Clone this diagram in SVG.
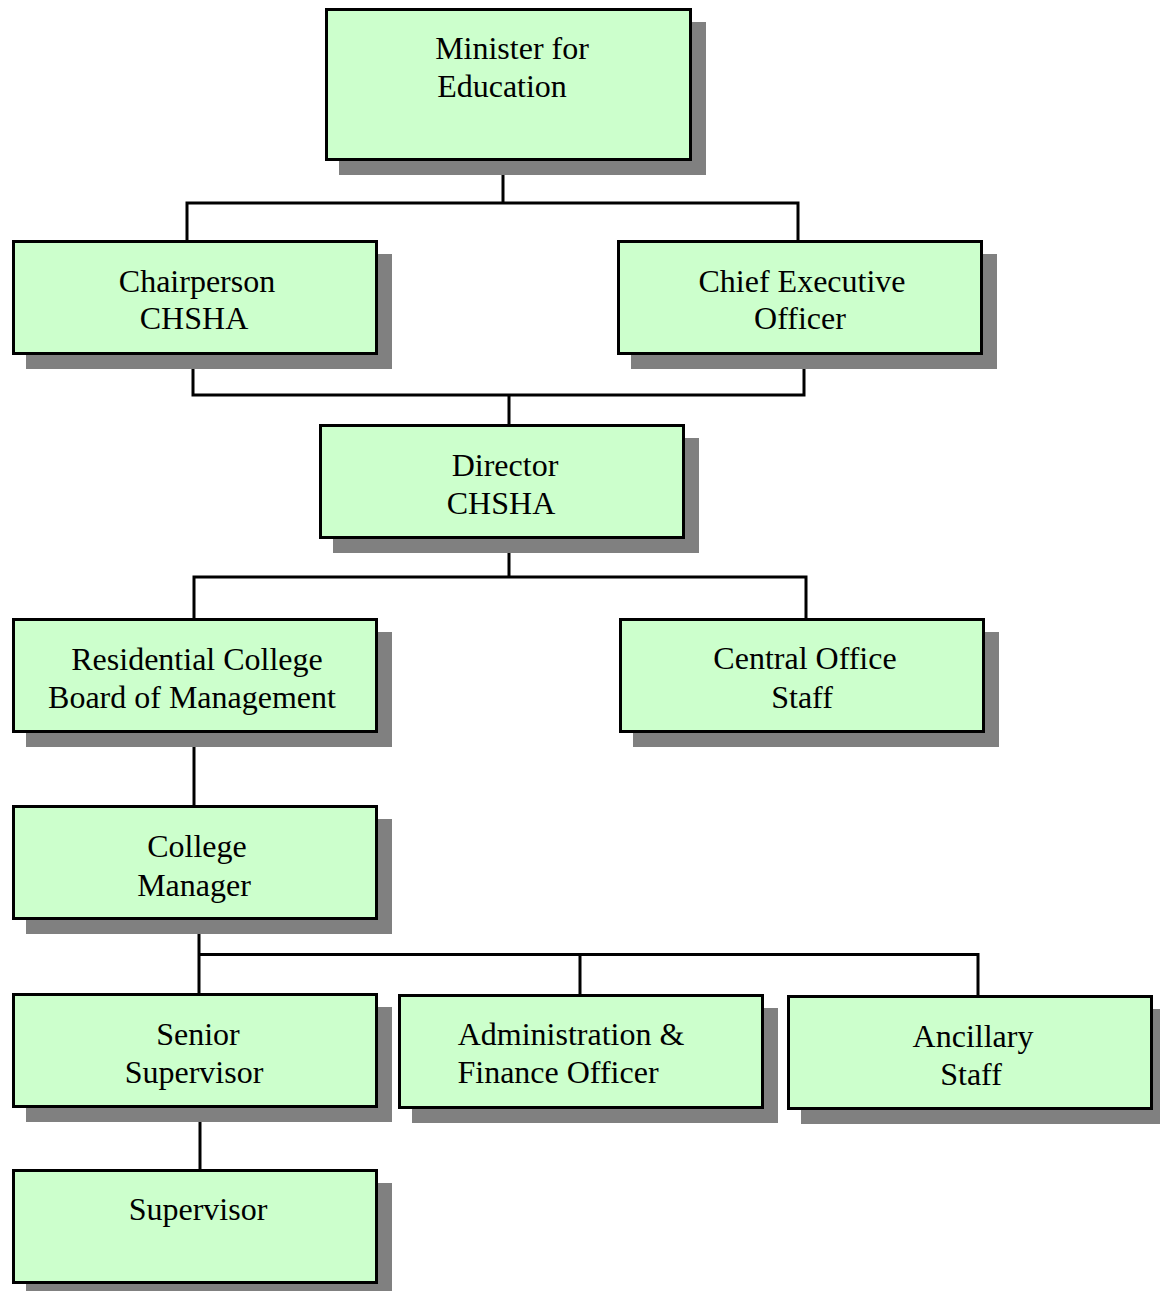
<svg xmlns="http://www.w3.org/2000/svg" width="1160" height="1291" viewBox="0 0 1160 1291">
<style>
.box{fill:#CCFFCC;stroke:#000;stroke-width:3}
.sh{fill:#808080}
.t{font-family:"Liberation Serif","Times New Roman",serif;font-size:32px;fill:#000;text-anchor:middle}
.c{fill:none;stroke:#000;stroke-width:3}
</style>
<rect width="1160" height="1291" fill="#fff"/>
<g id="connectors">
<path class="c" d="M503 161V203M187 240V203H798V240"/>
<path class="c" d="M193 355V395H804V355M509 395V424"/>
<path class="c" d="M509 539V577M194 618V577H806V618"/>
<path class="c" d="M194 733V805"/>
<path class="c" d="M199 920V993M199 954.5H978V995M580 954.5V994"/>
<path class="c" d="M200 1108V1169"/>
</g>
<g id="minister">
<rect class="sh" x="339" y="22" width="367" height="153"/>
<rect class="box" x="326.5" y="9.5" width="364" height="150"/>
<text class="t"><tspan x="512" y="59">Minister for</tspan><tspan x="502" y="97">Education</tspan></text>
</g>
<g id="chairperson">
<rect class="sh" x="26" y="254" width="366" height="115"/>
<rect class="box" x="13.5" y="241.5" width="363" height="112"/>
<text class="t"><tspan x="197" y="292">Chairperson</tspan><tspan x="194" y="329">CHSHA</tspan></text>
</g>
<g id="ceo">
<rect class="sh" x="631" y="254" width="366" height="115"/>
<rect class="box" x="618.5" y="241.5" width="363" height="112"/>
<text class="t"><tspan x="802" y="292">Chief Executive</tspan><tspan x="800" y="329">Officer</tspan></text>
</g>
<g id="director">
<rect class="sh" x="333" y="438" width="366" height="115"/>
<rect class="box" x="320.5" y="425.5" width="363" height="112"/>
<text class="t"><tspan x="505" y="476">Director</tspan><tspan x="501" y="514">CHSHA</tspan></text>
</g>
<g id="board">
<rect class="sh" x="26" y="632" width="366" height="115"/>
<rect class="box" x="13.5" y="619.5" width="363" height="112"/>
<text class="t"><tspan x="197" y="670">Residential College</tspan><tspan x="192" y="708">Board of Management</tspan></text>
</g>
<g id="central-office">
<rect class="sh" x="633" y="632" width="366" height="115"/>
<rect class="box" x="620.5" y="619.5" width="363" height="112"/>
<text class="t"><tspan x="805" y="669">Central Office</tspan><tspan x="802" y="708">Staff</tspan></text>
</g>
<g id="college-manager">
<rect class="sh" x="26" y="819" width="366" height="115"/>
<rect class="box" x="13.5" y="806.5" width="363" height="112"/>
<text class="t"><tspan x="197" y="857">College</tspan><tspan x="194" y="896">Manager</tspan></text>
</g>
<g id="senior-supervisor">
<rect class="sh" x="26" y="1007" width="366" height="115"/>
<rect class="box" x="13.5" y="994.5" width="363" height="112"/>
<text class="t"><tspan x="198" y="1045">Senior</tspan><tspan x="194" y="1083">Supervisor</tspan></text>
</g>
<g id="admin-finance">
<rect class="sh" x="412" y="1008" width="366" height="115"/>
<rect class="box" x="399.5" y="995.5" width="363" height="112"/>
<text class="t"><tspan x="571" y="1045">Administration &amp;</tspan><tspan x="558" y="1083">Finance Officer</tspan></text>
</g>
<g id="ancillary">
<rect class="sh" x="801" y="1009" width="366" height="115"/>
<rect class="box" x="788.5" y="996.5" width="363" height="112"/>
<text class="t"><tspan x="973" y="1047">Ancillary</tspan><tspan x="971" y="1085">Staff</tspan></text>
</g>
<g id="supervisor">
<rect class="sh" x="26" y="1183" width="366" height="115"/>
<rect class="box" x="13.5" y="1170.5" width="363" height="112"/>
<text class="t"><tspan x="198" y="1220">Supervisor</tspan></text>
</g>
</svg>
